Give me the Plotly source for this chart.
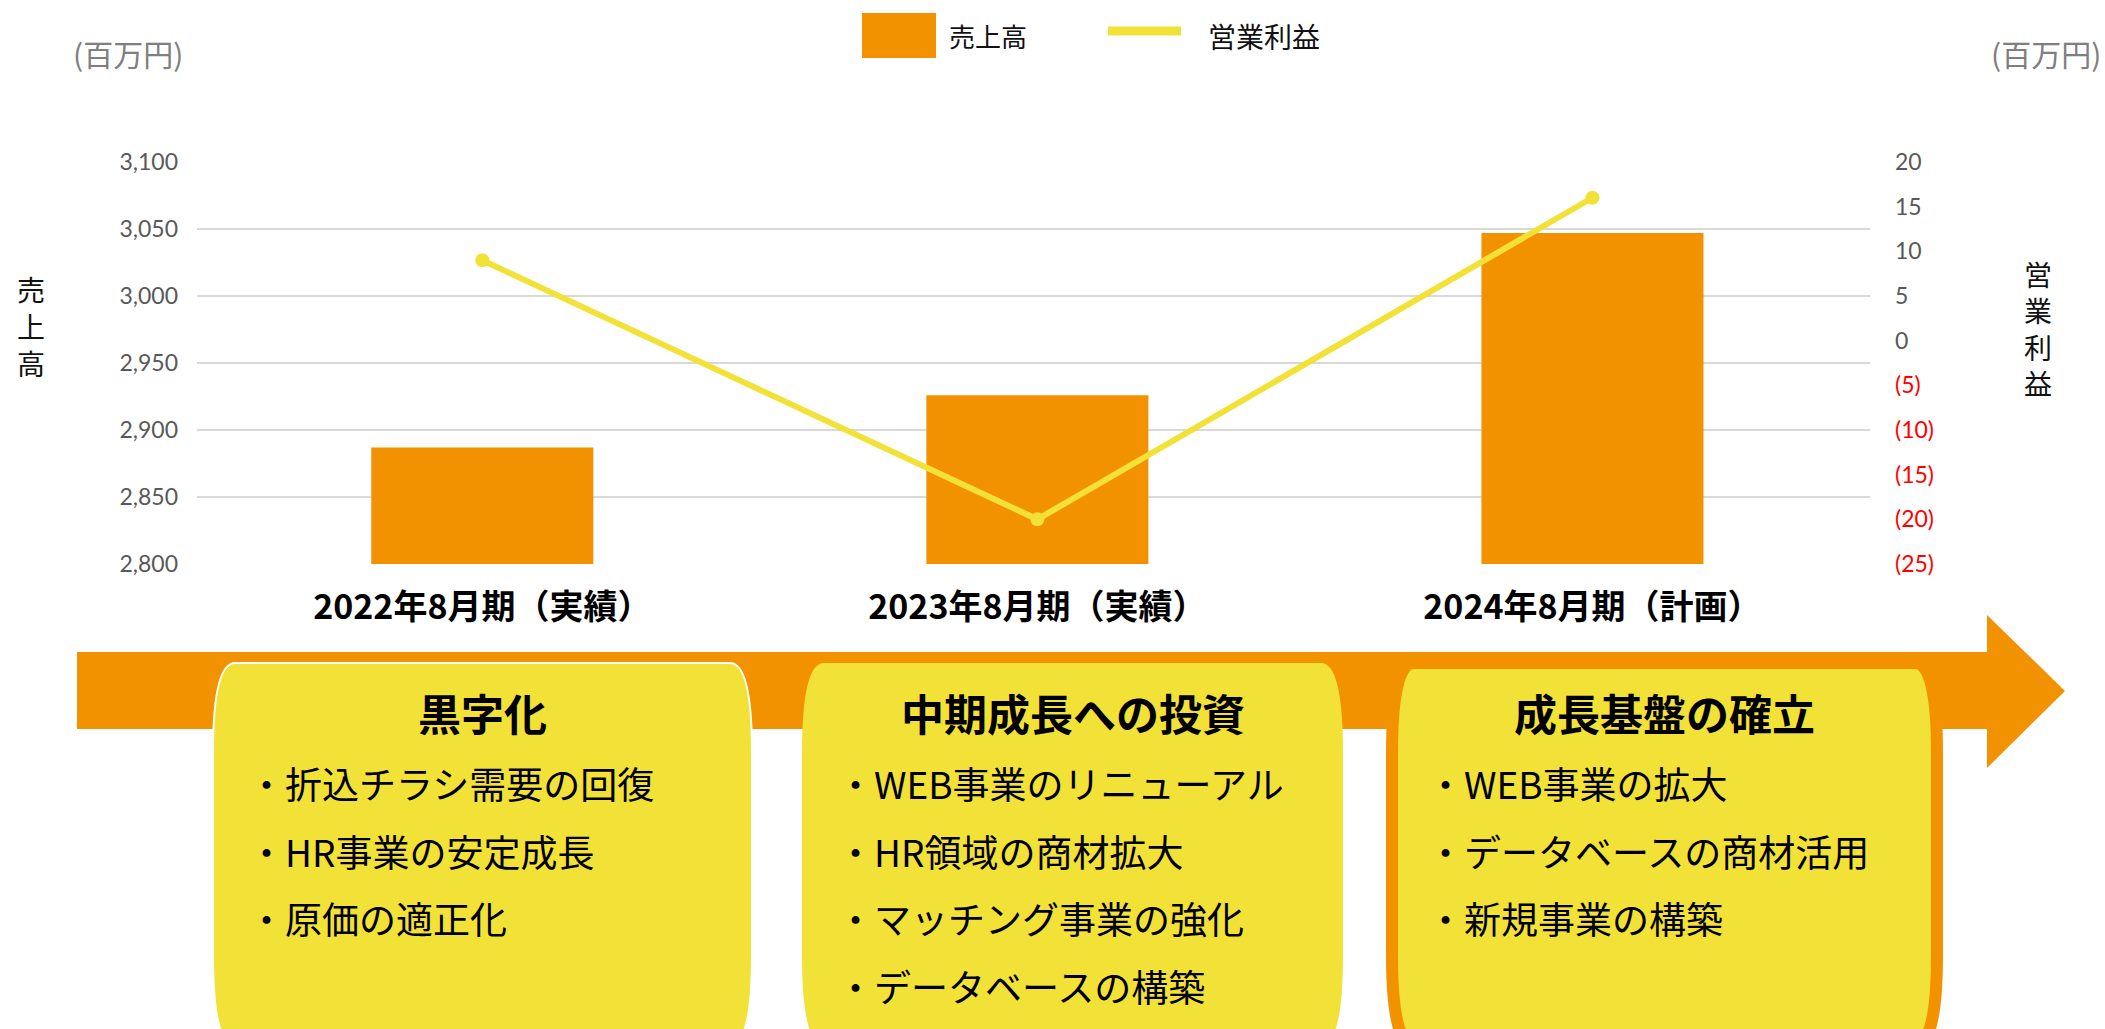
import plotly.graph_objects as go

# ---- data ----
periods = ["2022年8月期（実績）", "2023年8月期（実績）", "2024年8月期（計画）"]
sales = [2887, 2926, 3047]            # 売上高（百万円）
op_income = [9, -20, 16]              # 営業利益（百万円）

sales_ticks = [2800, 2850, 2900, 2950, 3000, 3050, 3100]
profit_ticks = [-25, -20, -15, -10, -5, 0, 5, 10, 15, 20]

box_titles = ["黒字化", "中期成長への投資", "成長基盤の確立"]
box_items = [
    ["・折込チラシ需要の回復", "・HR事業の安定成長", "・原価の適正化"],
    ["・WEB事業のリニューアル", "・HR領域の商材拡大", "・マッチング事業の強化", "・データベースの構築"],
    ["・WEB事業の拡大", "・データベースの商材活用", "・新規事業の構築"],
]

# ---- styling ----
W, H = 2105, 1029
ORANGE = "#F39200"
YELLOW = "#F2E136"
GRID = "#D9D9D9"
TICK = "#595959"
JP = "Noto Sans CJK JP"


def px(x):
    return x / W


def py(y):
    return 1 - y / H


def profit_label(v):
    if v < 0:
        return f'<span style="color:#FF0000">({abs(v)})</span>'
    return str(v)


fig = go.Figure()

fig.add_trace(go.Bar(
    x=periods, y=sales, name="売上高",
    marker=dict(color=ORANGE, line=dict(width=0)),
    width=0.4, yaxis="y", showlegend=False,
))

fig.add_trace(go.Scatter(
    x=periods, y=op_income, name="営業利益", yaxis="y2",
    mode="lines+markers",
    line=dict(color=YELLOW, width=6),
    marker=dict(color=YELLOW, size=14),
    showlegend=False,
))

shapes = []
annotations = []

# legend
shapes.append(dict(type="rect", xref="paper", yref="paper",
                   x0=px(862), x1=px(936), y0=py(58), y1=py(13),
                   fillcolor=ORANGE, line=dict(width=0), layer="above"))
annotations.append(dict(xref="paper", yref="paper", x=px(947), y=py(36),
                        text="売上高", showarrow=False, xanchor="left", yanchor="middle",
                        font=dict(family=JP, size=26, color="#111111")))
shapes.append(dict(type="line", xref="paper", yref="paper",
                   x0=px(1108), x1=px(1181), y0=py(31), y1=py(31),
                   line=dict(color=YELLOW, width=9)))
annotations.append(dict(xref="paper", yref="paper", x=px(1206), y=py(36),
                        text="営業利益", showarrow=False, xanchor="left", yanchor="middle",
                        font=dict(family=JP, size=28, color="#111111")))

# unit labels
annotations.append(dict(xref="paper", yref="paper", x=px(71), y=py(53),
                        text="(百万円)", showarrow=False, xanchor="left", yanchor="middle",
                        font=dict(family=JP, size=30, color="#7F7F7F")))
annotations.append(dict(xref="paper", yref="paper", x=px(2103), y=py(53),
                        text="(百万円)", showarrow=False, xanchor="right", yanchor="middle",
                        font=dict(family=JP, size=30, color="#7F7F7F")))

# vertical axis titles, one character per row
for i, ch in enumerate("売上高"):
    annotations.append(dict(xref="paper", yref="paper", x=px(31), y=py(289.5 + i * 36.5),
                            text=ch, showarrow=False, xanchor="center", yanchor="middle",
                            font=dict(family=JP, size=28, color="#111111")))
for i, ch in enumerate("営業利益"):
    annotations.append(dict(xref="paper", yref="paper", x=px(2038), y=py(274 + i * 36.5),
                            text=ch, showarrow=False, xanchor="center", yanchor="middle",
                            font=dict(family=JP, size=28, color="#111111")))

# timeline arrow
arrow_path = (f"M {px(77)},{py(652)} L {px(1987)},{py(652)} L {px(1987)},{py(615)} "
              f"L {px(2065)},{py(691)} L {px(1987)},{py(768)} L {px(1987)},{py(729)} "
              f"L {px(77)},{py(729)} Z")
shapes.append(dict(type="path", xref="paper", yref="paper", path=arrow_path,
                   fillcolor=ORANGE, line=dict(width=0), layer="above"))


def rounded_box(x0, x1, y0, y1, rx, ry):
    return (f"M {px(x0)},{py(y1 - ry)} L {px(x0)},{py(y0 + ry)} "
            f"Q {px(x0)},{py(y0)} {px(x0 + rx)},{py(y0)} "
            f"L {px(x1 - rx)},{py(y0)} Q {px(x1)},{py(y0)} {px(x1)},{py(y0 + ry)} "
            f"L {px(x1)},{py(y1 - ry)} Q {px(x1)},{py(y1)} {px(x1 - rx)},{py(y1)} "
            f"L {px(x0 + rx)},{py(y1)} Q {px(x0)},{py(y1)} {px(x0)},{py(y1 - ry)} Z")


boxes = [
    dict(x0=213, x1=752, border="white", bw=2),
    dict(x0=802, x1=1343, border=YELLOW, bw=0),
    dict(x0=1392, x1=1937, border=ORANGE, bw=12),
]
box_top = 663
box_bottom = 1045
title_y = 712
item_y0 = 783
item_dy = 67.5

for b, title, items in zip(boxes, box_titles, box_items):
    shapes.append(dict(type="path", xref="paper", yref="paper",
                       path=rounded_box(b["x0"], b["x1"], box_top, box_bottom, 22, 90),
                       fillcolor=YELLOW,
                       line=dict(color=b["border"], width=b["bw"]) if b["bw"] else dict(width=0),
                       layer="above"))
    cx = (b["x0"] + b["x1"]) / 2
    annotations.append(dict(xref="paper", yref="paper", x=px(cx), y=py(title_y),
                            text=f"<b>{title}</b>", showarrow=False,
                            xanchor="center", yanchor="middle",
                            font=dict(family=JP, size=43, color="#000000")))
    for i, item in enumerate(items):
        annotations.append(dict(xref="paper", yref="paper", x=px(b["x0"] + 33),
                                y=py(item_y0 + i * item_dy),
                                text=item, showarrow=False,
                                xanchor="left", yanchor="middle",
                                font=dict(family=JP, size=37, color="#000000")))

fig.update_layout(
    width=W, height=H,
    margin=dict(l=0, r=0, t=0, b=0),
    paper_bgcolor="white", plot_bgcolor="white",
    font=dict(family=JP),
    showlegend=False,
    bargap=0.6,
    xaxis=dict(
        domain=[px(197), px(1870)],
        type="category",
        range=[-0.514, 2.5],
        showgrid=False, zeroline=False, showline=False,
        ticks="", automargin=False,
        ticklabelstandoff=20,
        tickfont=dict(family=JP, size=34, color="#000000"),
        tickvals=periods,
        ticktext=[f"<b>{p}</b>" for p in periods],
    ),
    yaxis=dict(
        domain=[py(564), py(162)],
        range=[2800, 3100],
        tickvals=sales_ticks,
        ticktext=[f"{v:,}" for v in sales_ticks],
        showgrid=True, gridcolor=GRID, gridwidth=2,
        zeroline=False, showline=False, ticks="",
        automargin=False, ticklabelstandoff=18,
        tickfont=dict(family="Lato", size=23, color=TICK),
    ),
    yaxis2=dict(
        overlaying="y", side="right", anchor="x",
        range=[-25, 20],
        tickvals=profit_ticks,
        ticktext=[profit_label(v) for v in profit_ticks],
        showgrid=False, zeroline=False, showline=False, ticks="",
        automargin=False, ticklabelstandoff=24,
        tickfont=dict(family="Lato", size=23, color=TICK),
    ),
    shapes=shapes,
    annotations=annotations,
)

fig.write_html("out.html")
